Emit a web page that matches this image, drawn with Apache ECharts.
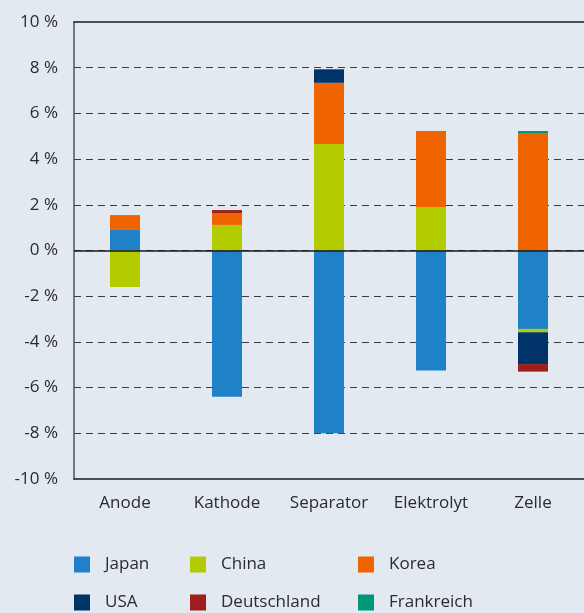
<!DOCTYPE html>
<html>
<head>
<meta charset="utf-8">
<script src="https://cdn.jsdelivr.net/npm/echarts@6/dist/echarts.min.js"></script>
<style>
  html, body { margin: 0; padding: 0; background: #e2e9f1; }
  #chart { width: 584px; height: 613px; }
</style>
</head>
<body>
<div id="chart"></div>
<script>
// Categories along the x axis
const categories = ['Anode', 'Kathode', 'Separator', 'Elektrolyt', 'Zelle'];

// Share per country and component, in percent
const japan       = [0.9, -6.4, -8.0, -5.25, -3.43];
const china       = [-1.6, 1.12, 4.66, 1.9, -0.15];
const korea       = [0.65, 0.52, 2.68, 3.33, 5.14];
const usa         = [0, 0, 0.59, 0, -1.39];
const deutschland = [0, 0.13, 0, 0, -0.33];
const frankreich  = [0, 0, 0, 0, 0.09];

const seriesNames = ['Japan', 'China', 'Korea', 'USA', 'Deutschland', 'Frankreich'];
const seriesData  = [japan, china, korea, usa, deutschland, frankreich];
const colors      = ['#1f82c8', '#b3cc00', '#f06400', '#003469', '#9e1e1e', '#009678'];

// y axis range and step
const yMin = -10, yMax = 10, yStep = 2;

const font = '"Open Sans", "Noto Sans", sans-serif';
const fontSize = 17;

// Legend laid out as a 3 x 2 grid
const legendCols = [74, 190, 358];
const legendRows = [556, 594];
const legends = seriesNames.map((name, i) => ({
  data: [name],
  left: legendCols[i % 3],
  top: legendRows[Math.floor(i / 3)],
  padding: 0,
  icon: 'rect',
  itemWidth: 16,
  itemHeight: 16,
  selectedMode: false,
  textStyle: { fontFamily: font, fontSize: fontSize, color: '#2b2b2b', padding: [0, 0, 0, 10] }
}));

const series = seriesNames.map((name, i) => ({
  name,
  type: 'bar',
  stack: 'total',
  barWidth: 30,
  z: 3,
  data: seriesData[i],
  itemStyle: { color: colors[i] }
}));

// solid zero line, kept beneath the bars
series.push({
  type: 'line',
  data: [],
  z: 1,
  silent: true,
  markLine: {
    silent: true,
    symbol: ['none', 'none'],
    label: { show: false },
    lineStyle: { color: '#1a1a1a', type: 'solid', width: 1.5 },
    data: [{ yAxis: 0 }]
  }
});

const chart = echarts.init(document.getElementById('chart'), null, { renderer: 'canvas' });
chart.setOption({
  backgroundColor: '#e2e9f1',
  animation: false,
  color: colors,
  legend: legends,
  grid: { left: 74, right: 0, top: 22, bottom: 134, containLabel: false },
  xAxis: [
    {
      type: 'category',
      data: categories,
      position: 'bottom',
      z: 5,
      axisLine: { onZero: false, lineStyle: { color: '#1a1a1a', width: 1.5 } },
      axisTick: { show: false },
      axisLabel: { fontFamily: font, fontSize: fontSize, color: '#2b2b2b', margin: 16 }
    },
    {
      type: 'category',
      data: categories,
      position: 'top',
      z: 5,
      axisLine: { show: true, onZero: false, lineStyle: { color: '#1a1a1a', width: 1.5 } },
      axisTick: { show: false },
      axisLabel: { show: false }
    }
  ],
  yAxis: {
    type: 'value',
    min: yMin,
    max: yMax,
    interval: yStep,
    z: 0,
    axisLine: { show: true, lineStyle: { color: '#555', width: 1.5 } },
    axisTick: { show: false },
    axisLabel: {
      fontFamily: font, fontSize: fontSize, color: '#2b2b2b', margin: 16,
      formatter: '{value} %'
    },
    splitLine: {
      show: true,
      showMinLine: false,
      showMaxLine: false,
      lineStyle: { color: '#3a3a3a', type: [7, 5], width: 1.2 }
    }
  },
  series
});
</script>
</body>
</html>
